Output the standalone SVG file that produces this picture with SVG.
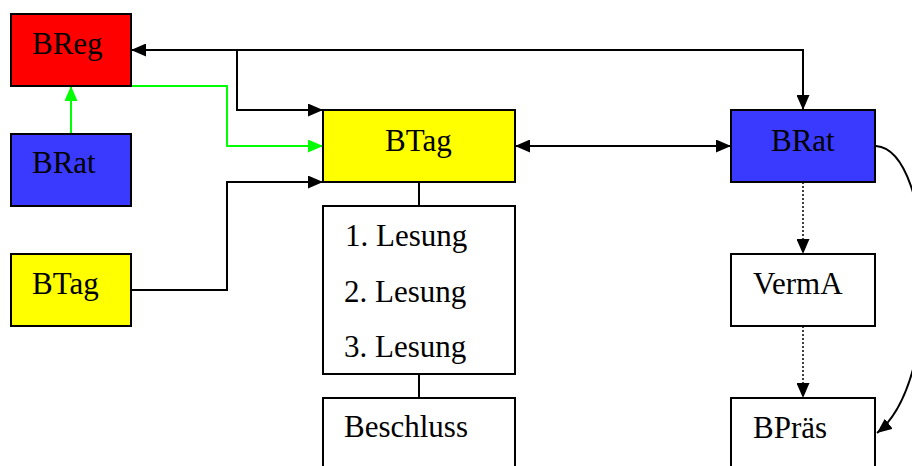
<svg xmlns="http://www.w3.org/2000/svg" width="912" height="466" viewBox="0 0 912 466">
  <style>
    .box { stroke: #000; stroke-width: 2; }
    .red { fill: #FF0000; }
    .blue { fill: #3A3AFF; }
    .yellow { fill: #FFFF00; }
    .white { fill: #FFFFFF; }
    .lbl { font-family: "Liberation Serif", "Times New Roman", serif; font-size: 31px; fill: #000; }
    .line { fill: none; stroke: #000; stroke-width: 2; }
    .green { fill: none; stroke: #00FF00; stroke-width: 2; }
    .dot { fill: none; stroke: #000; stroke-width: 1.5; stroke-dasharray: 2 2; }
  </style>
  <defs>
    <marker id="arrow" markerUnits="userSpaceOnUse" markerWidth="15" markerHeight="13" refX="15" refY="6.5" orient="auto-start-reverse" viewBox="0 0 15 13">
      <path d="M0,0 L15,6.5 L0,13 z" fill="#000"/>
    </marker>
    <marker id="arrowGreen" markerUnits="userSpaceOnUse" markerWidth="15" markerHeight="13" refX="15" refY="6.5" orient="auto" viewBox="0 0 15 13">
      <path d="M0,0 L15,6.5 L0,13 z" fill="#00FF00"/>
    </marker>
  </defs>
  <rect width="912" height="466" fill="#FFFFFF"/>

  <g id="connectors">
    <!-- BReg <-> BRat along the top -->
    <path class="line" d="M131,50 H803 V110" marker-start="url(#arrow)" marker-end="url(#arrow)"/>
    <path class="line" d="M237,50 V110 H323" marker-end="url(#arrow)"/>
    <!-- green links -->
    <path class="green" d="M131,86 H227 V146 H323" marker-end="url(#arrowGreen)"/>
    <path class="green" d="M71,134 V86" marker-end="url(#arrowGreen)"/>
    <!-- left BTag to central BTag -->
    <path class="line" d="M131,290 H227 V182 H323" marker-end="url(#arrow)"/>
    <!-- BTag <-> BRat -->
    <path class="line" d="M515,146 H731" marker-start="url(#arrow)" marker-end="url(#arrow)"/>
    <!-- central column -->
    <path class="line" d="M419,182 V206"/>
    <path class="line" d="M419,374 V398"/>
    <!-- right column, dotted -->
    <path class="dot" d="M803,182 V254" marker-end="url(#arrow)"/>
    <path class="dot" d="M803,326 V398" marker-end="url(#arrow)"/>
    <!-- curved BRat to BPräs -->
    <path class="line" d="M876,146 C935,150 945,380 877,433" marker-end="url(#arrow)"/>
  </g>

  <g id="node-breg">
    <rect class="box red" x="11" y="14" width="120" height="72"/>
    <text class="lbl" x="32" y="54">BReg</text>
  </g>
  <g id="node-brat-left">
    <rect class="box blue" x="11" y="134" width="120" height="72"/>
    <text class="lbl" x="32" y="173">BRat</text>
  </g>
  <g id="node-btag-left">
    <rect class="box yellow" x="11" y="254" width="120" height="72"/>
    <text class="lbl" x="32" y="294">BTag</text>
  </g>
  <g id="node-btag">
    <rect class="box yellow" x="323" y="110" width="192" height="72"/>
    <text class="lbl" x="385" y="151">BTag</text>
  </g>
  <g id="node-lesung">
    <rect class="box white" x="323" y="206" width="192" height="168"/>
    <text class="lbl" x="345" y="246">1. Lesung</text>
    <text class="lbl" x="344" y="302">2. Lesung</text>
    <text class="lbl" x="344" y="357">3. Lesung</text>
  </g>
  <g id="node-beschluss">
    <rect class="box white" x="323" y="398" width="192" height="80"/>
    <text class="lbl" x="344" y="437">Beschluss</text>
  </g>
  <g id="node-brat">
    <rect class="box blue" x="731" y="110" width="144" height="72"/>
    <text class="lbl" x="771" y="151">BRat</text>
  </g>
  <g id="node-verma">
    <rect class="box white" x="731" y="254" width="144" height="72"/>
    <text class="lbl" x="753" y="294">VermA</text>
  </g>
  <g id="node-bpraes">
    <rect class="box white" x="731" y="398" width="144" height="80"/>
    <text class="lbl" x="753" y="438">BPräs</text>
  </g>
</svg>
